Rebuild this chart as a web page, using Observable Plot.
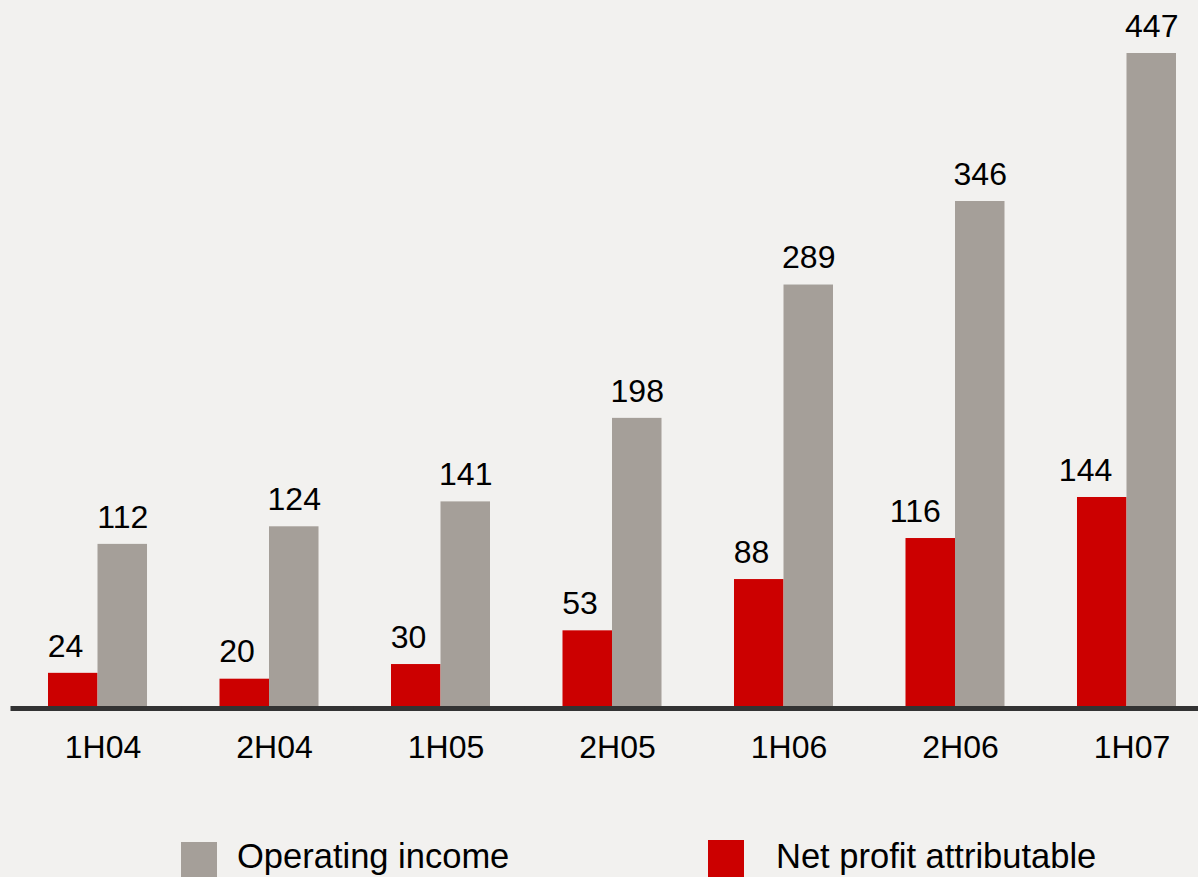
<!DOCTYPE html>
<html>
<head>
<meta charset="utf-8">
<script src="https://cdn.jsdelivr.net/npm/d3@7"></script>
<script src="https://cdn.jsdelivr.net/npm/@observablehq/plot@0.6"></script>
<style>
  html, body { margin: 0; padding: 0; background: #f2f1ef; overflow: hidden; width: 1198px; height: 877px; }
  body { font-family: "Liberation Sans", Arial, sans-serif; position: relative; }
  #chart svg { display: block; background: #f2f1ef; }
  .sw { position: absolute; width: 36px; height: 37px; }
  .lt { position: absolute; font-size: 34.5px; line-height: 34px; color: #000; white-space: nowrap; }
</style>
</head>
<body>
<div id="chart"></div>
<div id="legend"></div>
<script>
const categories = ["1H04", "2H04", "1H05", "2H05", "1H06", "2H06", "1H07"];
const operatingIncome = [112, 124, 141, 198, 289, 346, 447];
const netProfit = [24, 20, 30, 53, 88, 116, 144];
const seriesNames = ["Net profit attributable", "Operating income"];
const seriesColors = ["#cc0000", "#a59f99"];

const rows = [];
categories.forEach((c, i) => {
  rows.push({period: c, series: seriesNames[0], value: netProfit[i]});
  rows.push({period: c, series: seriesNames[1], value: operatingIncome[i]});
});
const redRows = rows.filter(d => d.series === seriesNames[0]);
const grayRows = rows.filter(d => d.series === seriesNames[1]);

const chart = Plot.plot({
  width: 1198,
  height: 790,
  marginTop: 53,
  marginBottom: 82,
  marginLeft: 48,
  marginRight: 22,
  style: {fontFamily: "Liberation Sans, Arial, sans-serif", fontSize: "32px", background: "#f2f1ef", color: "#000", overflow: "visible"},
  fx: {domain: categories, paddingInner: 0.4227, paddingOuter: 0, round: false, axis: null, label: null},
  x: {domain: seriesNames, padding: 0, round: false, axis: null},
  y: {domain: [0, 447], axis: null},
  color: {domain: seriesNames, range: seriesColors},
  marks: [
    Plot.barY(rows, {fx: "period", x: "series", y: "value", fill: "series"}),
    Plot.ruleY([0], {stroke: "#333333", strokeWidth: 5, insetLeft: -37.5, insetRight: -37.5}),
    Plot.text(grayRows, {fx: "period", x: "series", y: "value", text: d => String(d.value), dy: -27, fontSize: 32, fill: "#000"}),
    Plot.text(redRows, {fx: "period", x: "series", y: "value", text: d => String(d.value), dy: -27, dx: 10, textAnchor: "end", fontSize: 32, fill: "#000"}),
    Plot.axisFx({anchor: "bottom", tickSize: 0, tickPadding: 27, fontSize: 32, dx: 5, label: null, fill: "#000"})
  ]
});
document.getElementById("chart").appendChild(chart);

const legend = document.getElementById("legend");
const legendItems = [
  {name: seriesNames[1], color: seriesColors[1], swLeft: 181, swTop: 842, textLeft: 237},
  {name: seriesNames[0], color: seriesColors[0], swLeft: 708, swTop: 840, textLeft: 776}
];
legendItems.forEach(it => {
  const sw = document.createElement("div");
  sw.className = "sw";
  sw.style.background = it.color;
  sw.style.left = it.swLeft + "px";
  sw.style.top = it.swTop + "px";
  const t = document.createElement("div");
  t.className = "lt";
  t.textContent = it.name;
  t.style.left = it.textLeft + "px";
  t.style.top = "839px";
  legend.appendChild(sw);
  legend.appendChild(t);
});
</script>
</body>
</html>
